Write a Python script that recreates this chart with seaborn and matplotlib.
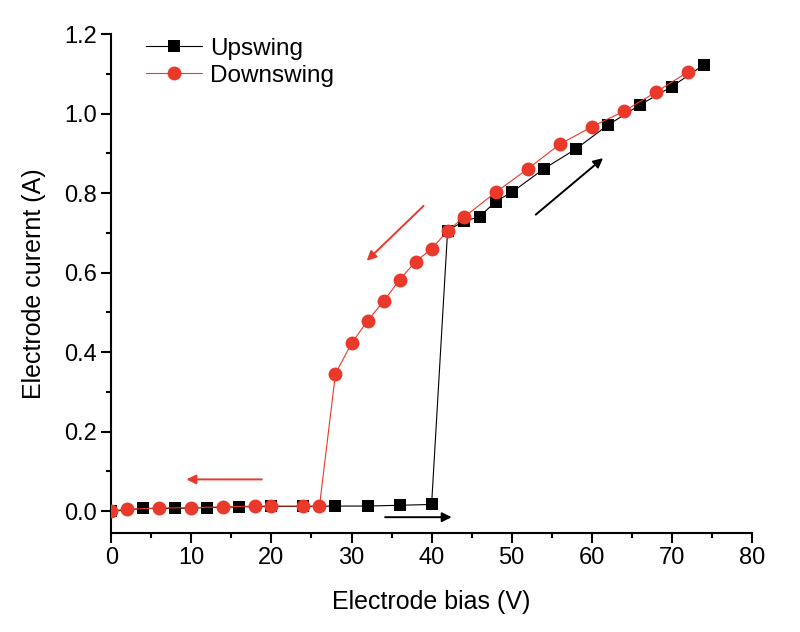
import matplotlib
matplotlib.use("Agg")
import matplotlib.pyplot as plt
import seaborn as sns
import pandas as pd
import numpy as np
from matplotlib.ticker import MultipleLocator

# ---- data ----
up_bias = [0, 4, 8, 12, 16, 20, 24, 28, 32, 36, 40, 42, 44, 46, 48, 50, 54, 58, 62, 66, 70, 74]
up_current = [0.0, 0.007, 0.007, 0.009, 0.011, 0.012, 0.012, 0.013, 0.013, 0.015, 0.017,
              0.706, 0.729, 0.741, 0.779, 0.802, 0.861, 0.911, 0.971, 1.022, 1.068, 1.123]

down_bias = [0, 2, 6, 10, 14, 18, 20, 24, 26, 28, 30, 32, 34, 36, 38, 40, 42, 44,
             48, 52, 56, 60, 64, 68, 72]
down_current = [0.001, 0.005, 0.008, 0.009, 0.011, 0.013, 0.013, 0.013, 0.013,
                0.346, 0.422, 0.479, 0.528, 0.582, 0.628, 0.660, 0.705, 0.739,
                0.802, 0.861, 0.923, 0.967, 1.006, 1.054, 1.105]

series_names = ["Upswing", "Downswing"]

# direction arrows (start x, start y, end x, end y, series)
arrows = [
    (18.8, 0.080, 9.4, 0.080, "Downswing"),
    (39.0, 0.768, 31.9, 0.630, "Downswing"),
    (34.2, -0.015, 42.5, -0.015, "Upswing"),
    (53.0, 0.746, 61.4, 0.888, "Upswing"),
]

RED = "#e8392a"
colors = {"Upswing": "black", "Downswing": RED}
markers = {"Upswing": "s", "Downswing": "o"}

df = pd.concat([
    pd.DataFrame({"bias": up_bias, "current": up_current, "series": series_names[0]}),
    pd.DataFrame({"bias": down_bias, "current": down_current, "series": series_names[1]}),
], ignore_index=True)

sns.set_theme(style="ticks")
plt.rcParams['font.family'] = ['Liberation Sans', 'DejaVu Sans']
plt.rcParams['text.color'] = 'black'
plt.rcParams['axes.labelcolor'] = 'black'
plt.rcParams['xtick.color'] = 'black'
plt.rcParams['ytick.color'] = 'black'

fig = plt.figure(figsize=(8, 6.32), dpi=100)
ax = fig.add_axes([0.139, 0.1565, 0.801, 0.7895])

for name in series_names:
    sub = df[df["series"] == name]
    sns.lineplot(data=sub, x="bias", y="current", ax=ax, color=colors[name],
                 marker=markers[name], markersize=10 if name == "Downswing" else 9,
                 markeredgewidth=0, linewidth=0.8, label=name, sort=False,
                 estimator=None, zorder=3 if name == "Downswing" else 2)

for x0, y0, x1, y1, s in arrows:
    ax.annotate("", xy=(x1, y1), xytext=(x0, y0),
                arrowprops=dict(arrowstyle="-|>", color=colors[s], lw=1.4,
                                mutation_scale=14, shrinkA=0, shrinkB=0))

ax.set_xlim(0, 80)
ax.set_ylim(-0.055, 1.2)
ax.xaxis.set_major_locator(MultipleLocator(10))
ax.xaxis.set_minor_locator(MultipleLocator(5))
ax.yaxis.set_major_locator(MultipleLocator(0.2))
ax.yaxis.set_minor_locator(MultipleLocator(0.1))
ax.yaxis.set_major_formatter(matplotlib.ticker.FormatStrFormatter("%.1f"))

sns.despine(ax=ax)
for sp in ["left", "bottom"]:
    ax.spines[sp].set_linewidth(1.5)
    ax.spines[sp].set_color("black")
ax.tick_params(which="major", direction="out", length=7, width=1.5, labelsize=17, colors="black", pad=3)
ax.tick_params(which="minor", direction="out", length=3.5, width=1.5, colors="black")

ax.set_xlabel("Electrode bias (V)", fontsize=18, labelpad=15)
ax.set_ylabel("Electrode curernt (A)", fontsize=18, labelpad=13)

leg = ax.legend(loc="upper left", bbox_to_anchor=(0.055, 0.993), frameon=False,
                fontsize=17.5, handlelength=2.3, handletextpad=0.33, labelspacing=0.2,
                borderaxespad=0, borderpad=0)

fig.savefig("out.png", dpi=100)
